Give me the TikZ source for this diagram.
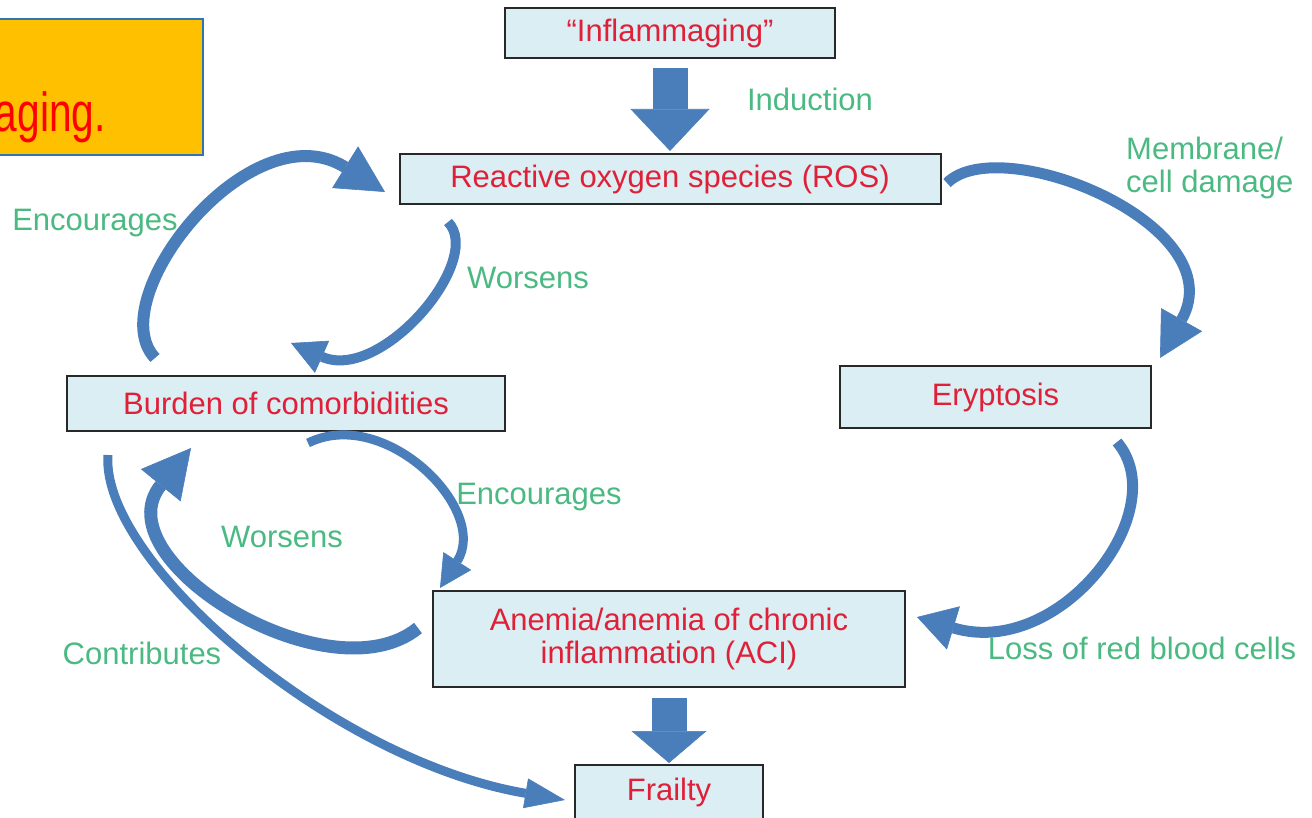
\documentclass[tikz,border=0pt]{standalone}
\usepackage{fontspec}
\setmainfont{Liberation Sans}
\newfontfamily\narrowfont[FakeStretch=0.74]{Liberation Sans}
\usetikzlibrary{arrows.meta,positioning,calc}

\definecolor{boxfill}{RGB}{218,238,243}
\definecolor{boxline}{RGB}{40,40,40}
\definecolor{txtred}{RGB}{224,32,56}
\definecolor{txtgreen}{RGB}{75,185,130}
\definecolor{arrowblue}{RGB}{74,126,187}
\definecolor{calloutfill}{RGB}{255,192,0}
\definecolor{calloutline}{RGB}{46,117,182}

\begin{document}
\begin{tikzpicture}[x=1pt, y=-1pt,
    every node/.style={font=\fontsize{31}{33}\selectfont},
    stage/.style={rectangle, draw=boxline, line width=2pt, fill=boxfill, text=txtred, align=center, inner sep=0pt},
    note/.style={text=txtgreen, align=left, inner sep=0pt},
    blockarrow/.style n args={3}{draw=arrowblue, line width=#1, -{Triangle[width=#2, length=#3, line width=0.6pt]}},
    curvy/.style n args={3}{draw=arrowblue, line width=#1, -{Triangle[width=#2, length=#3, line width=0.6pt]}}
]
    \useasboundingbox (0,0) rectangle (1312,818);
    \clip (0,0) rectangle (1312,818);

    % Callout cut off at the left edge
    \node (callout) [draw=calloutline, line width=2pt, fill=calloutfill, minimum width=300, minimum height=136, inner sep=0pt] at (53,87) {};
    \node (callouttext) [anchor=base east, inner sep=0pt, text=red, font=\narrowfont\fontsize{55}{60}\selectfont] at (106,132) {aging.};

    % Main chain
    \node (infl) [stage, minimum width=330, minimum height=50] at (670,33) {“Inflammaging”};
    \node (ros) [stage, minimum width=541, minimum height=50, below=94pt of infl] {Reactive oxygen species (ROS)};
    \node (burden) [stage, minimum width=438, minimum height=55] at (286,403.5) {Burden of comorbidities};
    \node (eryp) [stage, minimum width=311, minimum height=62] at (995.5,397) {Eryptosis};
    \node (anemia) [stage, minimum width=472, minimum height=96] at (669,639) {Anemia/anemia of chronic\\inflammation (ACI)};
    \node (frail) [stage, minimum width=188, minimum height=54, below=76pt of anemia] {Frailty};

    % Labels
    \node (induct) [note] at (810,99) {Induction};
    \node (membr) [note, anchor=west] at (1126,168) {Membrane/\\cell damage};
    \node (encA) [note] at (95,223) {Encourages};
    \node (worA) [note] at (528,278) {Worsens};
    \node (encB) [note] at (539,497) {Encourages};
    \node (worB) [note] at (282,537) {Worsens};
    \node (contr) [note] at (142,653) {Contributes};
    \node (loss) [note] at (1142,648) {Loss of red blood cells};

    % Arrow ends
    \coordinate (encAs) at (155,358);
    \coordinate (encAe) at (385,192);
    \coordinate (worAs) at (448,222);
    \coordinate (worAe) at (291,343);
    \coordinate (encBs) at (308,443);
    \coordinate (encBe) at (440,588);
    \coordinate (worBs) at (418,628);
    \coordinate (worBe) at (191,448);
    \coordinate (contrs) at (108,455);
    \coordinate (contre) at (565,800);
    \coordinate (membrs) at (947,183);
    \coordinate (membre) at (1160,358);
    \coordinate (losss) at (1117,442);
    \coordinate (losse) at (917,617);

    % Straight block arrows
    \draw [blockarrow={35pt}{79pt}{42pt}] ($(infl.south)+(0,9)$) -- ($(ros.north)+(0,-2)$);
    \draw [blockarrow={35pt}{75pt}{32pt}] ($(anemia.south)+(0,10)$) -- ($(frail.north)+(0,-1)$);

    % Curved arrows
    \draw [curvy={12pt}{49pt}{47pt}] (encAs) .. controls (100,300) and (250,108) .. (encAe);
    \draw [curvy={10pt}{35pt}{34pt}] (worAs) .. controls (485,260) and (381,383) .. (worAe);
    \draw [curvy={9pt}{33pt}{32pt}] (encBs) .. controls (385,405) and (490,510) .. (encBe);
    \draw [curvy={13pt}{51pt}{48pt}] (worBs) .. controls (330,700) and (100,560) .. (worBe);
    \draw [curvy={9pt}{30pt}{40pt}] (contrs) .. controls (100,560) and (330,760) .. (contre);
    \draw [curvy={11pt}{47pt}{44pt}] (membrs) .. controls (1000,130) and (1235,225) .. (membre);
    \draw [curvy={11pt}{45pt}{38pt}] (losss) .. controls (1175,510) and (1060,660) .. (losse);

\end{tikzpicture}
\end{document}
